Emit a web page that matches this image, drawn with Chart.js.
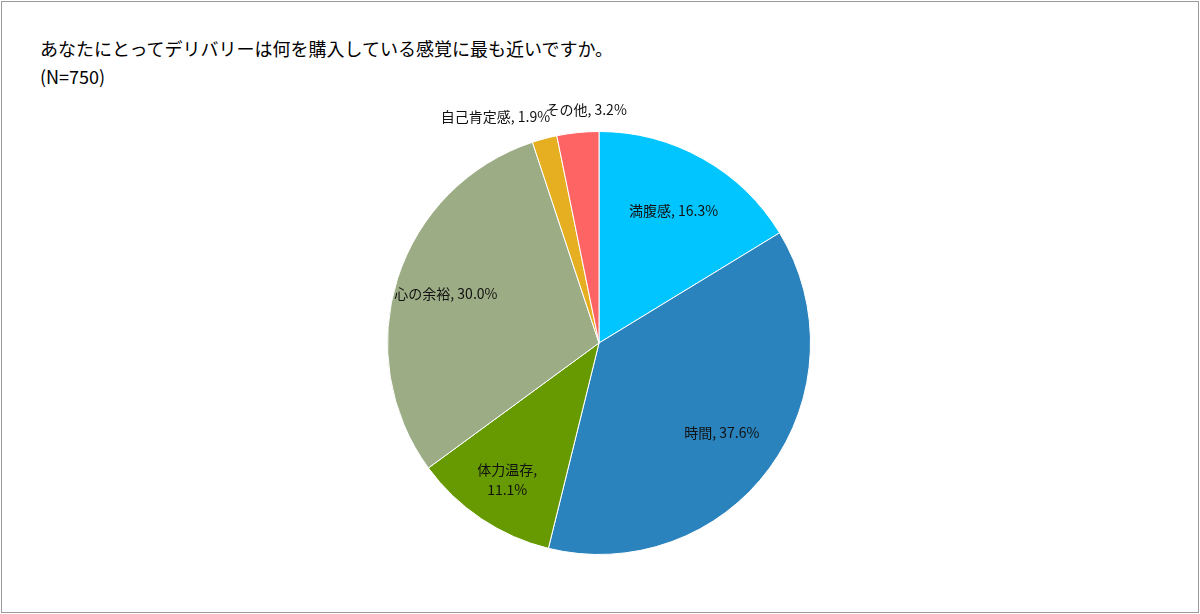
<!DOCTYPE html>
<html>
<head>
<meta charset="utf-8">
<script src="https://cdn.jsdelivr.net/npm/chart.js@4"></script>
<style>
  body { margin: 0; background: #fff; font-family: "Noto Sans CJK JP", sans-serif; }
  #wrap { position: relative; width: 1200px; height: 614px; }
  #frame { position: absolute; left: 1px; top: 1px; width: 1196px; height: 610px; border: 1px solid #9a9a9a; }
  #title { position: absolute; left: 40px; top: 34px; font-size: 18px; color: #000; line-height: 28px; }
  canvas { position: absolute; left: 0; top: 0; }
</style>
</head>
<body>
<div id="wrap">
  <div id="frame"></div>
  <div id="title">あなたにとってデリバリーは何を購入している感覚に最も近いですか。<br>(N=750)</div>
  <canvas id="pie" width="1200" height="614"></canvas>
</div>
<script>
// データ
const categories = ['満腹感', '時間', '体力温存', '心の余裕', '自己肯定感', 'その他'];
const values = [16.3, 37.6, 11.1, 30.0, 1.9, 3.2];
const colors = ['#00C5FF', '#2A83BD', '#669A00', '#9CAD86', '#E6AF22', '#FF6464'];

// Beschriftung: Radiusfaktor und Zeilenumbruch
const labelRadius = [0.72, 0.72, 0.78, 0.76, 1.08, 1.08];

const labelPlugin = {
    id: 'sliceLabels',
    afterDatasetsDraw(chart) {
        const ctx = chart.ctx;
        const meta = chart.getDatasetMeta(0);
        ctx.save();
        ctx.font = '14px "Noto Sans CJK JP", sans-serif';
        ctx.fillStyle = '#111';
        ctx.textBaseline = 'middle';
        meta.data.forEach((arc, i) => {
            const mid = (arc.startAngle + arc.endAngle) / 2;
            const r = arc.outerRadius * labelRadius[i];
            let x = arc.x + Math.cos(mid) * r;
            let y = arc.y + Math.sin(mid) * r;
            const text = categories[i] + ', ' + values[i].toFixed(1) + '%';
            if (i === 2) {
                ctx.textAlign = 'center';
                ctx.fillText(categories[i] + ',', x, y - 10);
                ctx.fillText(values[i].toFixed(1) + '%', x, y + 10);
                return;
            }
            if (i === 4) { ctx.textAlign = 'right'; x += 10; y -= 6; }
            else if (i === 5) { ctx.textAlign = 'center'; x += 10; y -= 6; }
            else ctx.textAlign = 'center';
            ctx.fillText(text, x, y);
        });
        ctx.restore();
    }
};

new Chart(document.getElementById('pie'), {
    type: 'pie',
    data: {
        labels: categories,
        datasets: [{
            data: values,
            backgroundColor: colors,
            borderColor: '#ffffff',
            borderWidth: 1
        }]
    },
    options: {
        responsive: false,
        animation: false,
        layout: { padding: { top: 131, bottom: 59, left: 0, right: 2 } },
        plugins: { legend: { display: false }, tooltip: { enabled: false } }
    },
    plugins: [labelPlugin]
});
</script>
</body>
</html>
